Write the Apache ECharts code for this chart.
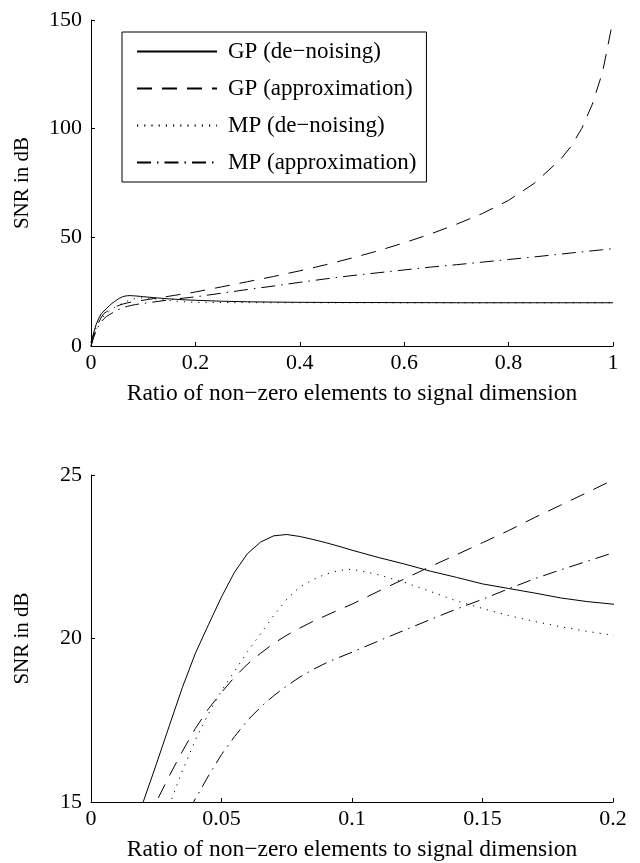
<!DOCTYPE html>
<html>
<head>
<meta charset="utf-8">
<script src="https://cdn.jsdelivr.net/npm/echarts@6/dist/echarts.min.js"></script>
<style>
html,body{margin:0;padding:0;background:#fff;}
#chart{width:640px;height:863px;}
</style>
</head>
<body>
<div id="chart"></div>
<script>
// ratio of non-zero elements to signal dimension
var ratio = [0, 0.005, 0.01, 0.015, 0.02, 0.025, 0.03, 0.035, 0.04, 0.045,
  0.05, 0.055, 0.06, 0.065, 0.07, 0.075, 0.08, 0.085, 0.09, 0.095,
  0.1, 0.11, 0.12, 0.13, 0.14, 0.15, 0.16, 0.17, 0.18, 0.19,
  0.2, 0.25, 0.3, 0.35, 0.4, 0.45, 0.5, 0.55, 0.6, 0.65,
  0.7, 0.75, 0.8, 0.85, 0.9, 0.92, 0.94, 0.96, 0.98, 1.0];

var gpDenoise = [1.5, 6, 10, 12.8, 15.0, 16.15, 17.33, 18.5, 19.55, 20.42,
  21.27, 22.03, 22.6, 22.95, 23.14, 23.18, 23.12, 23.03, 22.93, 22.82,
  22.7, 22.48, 22.28, 22.06, 21.87, 21.67, 21.53, 21.39, 21.24, 21.13,
  21.05, 20.6, 20.35, 20.2, 20.1, 20.05, 20.0, 20.0, 19.95, 19.95,
  19.9, 19.9, 19.9, 19.9, 19.9, 19.9, 19.9, 19.9, 19.9, 19.9];

var gpApprox = [0, 4.5, 8, 11, 13.4, 15.0, 15.8, 16.55, 17.25, 17.85,
  18.35, 18.82, 19.22, 19.55, 19.85, 20.1, 20.32, 20.52, 20.7, 20.88,
  21.05, 21.44, 21.82, 22.2, 22.56, 22.93, 23.3, 23.7, 24.08, 24.46,
  24.85, 27.2, 29.6, 32.0, 34.6, 37.4, 40.5, 43.8, 47.5, 51.5,
  56, 61, 67, 75, 86, 92, 100, 111, 126, 150];

var mpDenoise = [1.5, 5, 8.5, 11, 12.6, 13.9, 14.9, 15.95, 16.9, 17.7,
  18.4, 19.0, 19.6, 20.15, 20.7, 21.2, 21.58, 21.8, 21.97, 22.08,
  22.12, 21.95, 21.72, 21.44, 21.15, 20.92, 20.7, 20.52, 20.36, 20.22,
  20.1, 20.0, 19.95, 19.93, 19.92, 19.9, 19.9, 19.9, 19.9, 19.9,
  19.9, 19.9, 19.9, 19.9, 19.9, 19.9, 19.9, 19.9, 19.9, 19.9];

var mpApprox = [0, 4, 7, 9.5, 11.3, 12.6, 13.6, 14.4, 15.1, 15.8,
  16.45, 17.0, 17.5, 17.9, 18.25, 18.55, 18.82, 19.05, 19.25, 19.42,
  19.58, 19.92, 20.25, 20.58, 20.9, 21.2, 21.52, 21.83, 22.1, 22.36,
  22.62, 24.3, 26.0, 27.6, 29.3, 30.9, 32.4, 33.7, 35, 36.3,
  37.4, 38.6, 39.8, 41, 42.3, 42.8, 43.3, 43.8, 44.3, 44.8];

var names = ['GP (de\u2212noising)', 'GP (approximation)', 'MP (de\u2212noising)', 'MP (approximation)'];
var curves = [gpDenoise, gpApprox, mpDenoise, mpApprox];
var dashes = ['solid', [15, 10], [1.2, 6], [14, 6, 1.5, 6]];

var font = 'Liberation Serif';
var xName = 'Ratio of non\u2212zero elements to signal dimension';

function pairs(arr){
  return ratio.map(function(r, i){ return [r, arr[i]]; });
}

function xAxis(idx, max, interval){
  return {
    type: 'value', gridIndex: idx, min: 0, max: max, interval: interval,
    name: xName, nameLocation: 'middle', nameGap: 36,
    nameTextStyle: {fontFamily: font, fontSize: 23.5, color: '#000'},
    axisLine: {lineStyle: {color: '#000', width: 1}},
    axisTick: {inside: true, length: 4, lineStyle: {color: '#000'}},
    axisLabel: {fontFamily: font, fontSize: 22, color: '#000', margin: 6},
    splitLine: {show: false}
  };
}

function yAxis(idx, min, max, interval){
  return {
    type: 'value', gridIndex: idx, min: min, max: max, interval: interval,
    name: 'SNR in dB', nameLocation: 'middle', nameGap: 58, nameRotate: 90,
    nameTextStyle: {fontFamily: font, fontSize: 21, color: '#000'},
    axisLine: {show: true, lineStyle: {color: '#000', width: 1}},
    axisTick: {show: true, inside: true, length: 4, lineStyle: {color: '#000'}},
    axisLabel: {fontFamily: font, fontSize: 22, color: '#000', margin: 9},
    splitLine: {show: false}
  };
}

var series = [];
for (var g = 0; g < 2; g++) {
  for (var i = 0; i < curves.length; i++) {
    series.push({
      name: names[i], type: 'line', xAxisIndex: g, yAxisIndex: g,
      data: pairs(curves[i]), symbol: 'none', showSymbol: false,
      clip: true,
      lineStyle: {color: '#000', width: 1, type: dashes[i]},
      itemStyle: {color: '#000'}
    });
  }
}

var chart = echarts.init(document.getElementById('chart'));
chart.setOption({
  backgroundColor: '#fff',
  animation: false,
  grid: [
    {left: 91, right: 27, top: 20, height: 326},
    {left: 91, right: 27, top: 475, height: 328}
  ],
  legend: {
    data: names, orient: 'vertical', left: 122, top: 32,
    itemWidth: 80, itemHeight: 14, itemGap: 14,
    padding: [8, 10, 8, 14],
    borderColor: '#000', borderWidth: 1,
    itemStyle: {opacity: 0},
    textStyle: {fontFamily: font, fontSize: 23, color: '#000', padding: [0, 0, 0, 6], lineHeight: 23},
    selectedMode: false
  },
  xAxis: [xAxis(0, 1, 0.2), xAxis(1, 0.2, 0.05)],
  yAxis: [yAxis(0, 0, 150, 50), yAxis(1, 15, 25, 5)],
  series: series
});
</script>
</body>
</html>
